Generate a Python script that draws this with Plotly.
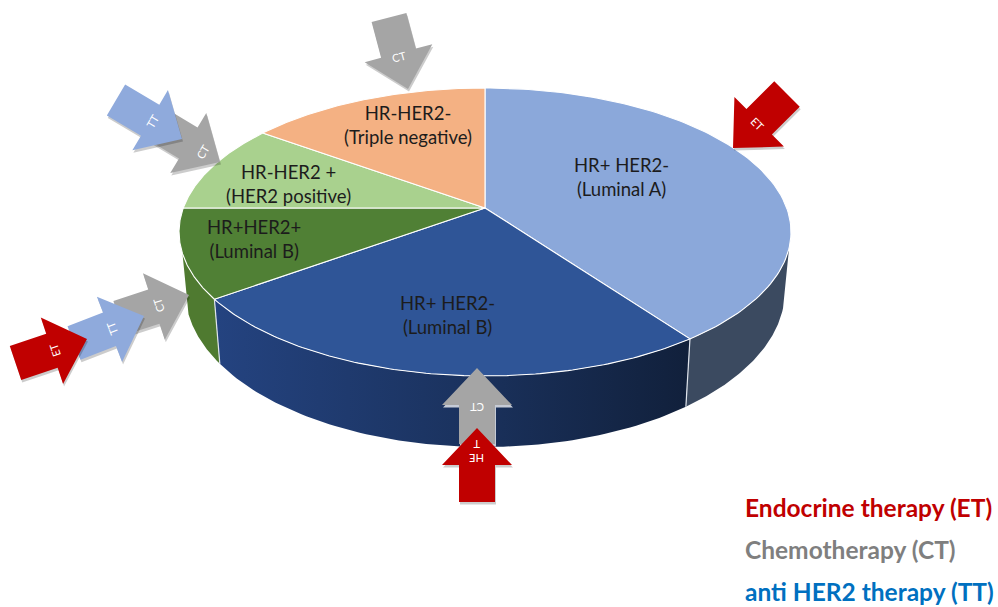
import math
import numpy as np
import plotly.graph_objects as go

# ---- data ----
slice_labels = ["HR+ HER2-<br>(Luminal A)", "HR+ HER2-<br>(Luminal B)", "HR+HER2+<br>(Luminal B)",
                "HR-HER2 +<br>(HER2 positive)", "HR-HER2-<br>(Triple negative)"]
slice_shares = [40, 25, 10, 10, 15]
slice_colors = ["#8ba8da", "#2f5597", "#508035", "#a9d18e", "#f4b183"]
label_x = [621, 447, 254, 288, 408]
label_y = [177, 315, 239, 184, 125]

legend_labels = ["Endocrine therapy (ET)", "Chemotherapy (CT)", "anti HER2 therapy (TT)"]
legend_colors = ["#c00000", "#7f7f7f", "#0070c0"]
legend_y = [507, 549, 591]

# therapy arrows: label, tip, back centre, and where its label sits along the arrow
arrow_text = ["CT", "TT", "ET", "CT", "TT", "CT", "ET", "CT", "HE<br>T"]
arrow_tipx = [189, 144, 87, 220, 182, 408, 733, 477, 477]
arrow_tipy = [295, 316, 339, 162, 139, 89, 148, 368, 428]
arrow_bx = [119, 74, 15.5, 155, 116, 389, 787, 477, 477]
arrow_by = [318, 343, 363, 123, 100, 17.5, 94, 444, 502]
arrow_frac = [0.56, 0.54, 0.55, 0.74, 0.55, 0.55, 0.55, 0.49, 0.69]
therapy_color = {"CT": "#a5a5a5", "TT": "#8faadc", "ET": "#c00000", "HE<br>T": "#c00000"}

# ---- projection of the pie on the page ----
CX, CY, A, B, K = 485, 208, 301.7, 140, 1 / 6
HEAD_LEN, HEAD_W, SHAFT_W = 37, 70, 36


def rim(deg):
    t = np.radians(deg)
    u, v = np.sin(t), -np.cos(t)
    d = 1 - K * v
    return CX + A * u / d, CY + B * v / d


def base(deg):
    x, y = rim(deg)
    return CX + 0.98 * (x - CX), CY + 57 + 1.083 * (y - CY)


fig = go.Figure()


def poly(xs, ys, fill, line=None, lw=0, grad=None):
    kw = dict(fillgradient=grad) if grad else dict(fillcolor=fill)
    fig.add_trace(go.Scatter(x=list(xs), y=list(ys), mode="lines", fill="toself",
                             line=dict(color=line or "rgba(0,0,0,0)", width=lw),
                             hoverinfo="skip", showlegend=False, **kw))


edges = np.cumsum([0] + slice_shares) * 3.6
VIS_R, VIS_L = 105.8, 252.0
walls = [
    (VIS_R, edges[1], "#3b4a60", None),
    (edges[1], edges[2], None, dict(type="horizontal", colorscale=[[0, "#244380"], [0.5, "#1b3360"], [1, "#11203b"]])),
    (edges[2], VIS_L, "#4f7a30", None),
]
for a0, a1, col, grad in walls:
    th = np.linspace(a0, a1, 80)
    tx, ty = rim(th)
    bx, by = base(th[::-1])
    poly(np.r_[tx, bx, tx[0]], np.r_[ty, by, ty[0]], col, None, 0, grad)

# white seams on the wall
for e in (edges[1], edges[2]):
    tx, ty = rim(e)
    bx, by = base(e)
    fig.add_trace(go.Scatter(x=[tx, bx], y=[ty, by], mode="lines", line=dict(color="#dfe4ec", width=1.2),
                             hoverinfo="skip", showlegend=False))

# top faces
for i, col in enumerate(slice_colors):
    th = np.linspace(edges[i], edges[i + 1], 120)
    x, y = rim(th)
    poly(np.r_[CX, x, CX], np.r_[CY, y, CY], col, "#ffffff", 1.1)

annotations = []
for t, x, y in zip(slice_labels, label_x, label_y):
    annotations.append(dict(x=x, y=y, text=t, showarrow=False, align="center",
                            font=dict(family="Lato", size=18.5, color="#1c1c1c")))

# arrows
for txt, tx, ty, bx, by, fr in zip(arrow_text, arrow_tipx, arrow_tipy, arrow_bx, arrow_by, arrow_frac):
    dx, dy = tx - bx, ty - by
    L = math.hypot(dx, dy)
    ux, uy = dx / L, dy / L
    nx, ny = -uy, ux
    hx, hy = tx - ux * HEAD_LEN, ty - uy * HEAD_LEN
    px = [tx, hx + nx * HEAD_W / 2, hx + nx * SHAFT_W / 2, bx + nx * SHAFT_W / 2,
          bx - nx * SHAFT_W / 2, hx - nx * SHAFT_W / 2, hx - nx * HEAD_W / 2, tx]
    py = [ty, hy + ny * HEAD_W / 2, hy + ny * SHAFT_W / 2, by + ny * SHAFT_W / 2,
          by - ny * SHAFT_W / 2, hy - ny * SHAFT_W / 2, hy - ny * HEAD_W / 2, ty]
    up = txt == "CT" and ty > 300 and abs(dx) < 1
    shadow = "rgba(255,255,255,0.75)" if up else "rgba(0,0,0,0.2)"
    poly([p + 1 for p in px], [p + 2.5 for p in py], shadow)
    poly(px, py, therapy_color[txt])
    angle = math.degrees(math.atan2(-ux, uy))  # rotation away from a downward arrow
    annotations.append(dict(x=bx + dx * fr, y=by + dy * fr, text=txt, showarrow=False, textangle=angle,
                            font=dict(family="Lato", size=11, color="#ffffff")))

for t, c, y in zip(legend_labels, legend_colors, legend_y):
    annotations.append(dict(x=743, y=y, text="<b>%s</b>" % t, showarrow=False, xanchor="left",
                            font=dict(family="Lato", size=24.5, color=c)))

fig.update_layout(width=998, height=607, margin=dict(l=0, r=0, t=0, b=0),
                  paper_bgcolor="white", plot_bgcolor="white", showlegend=False,
                  xaxis=dict(range=[0, 998], visible=False, fixedrange=True),
                  yaxis=dict(range=[607, 0], visible=False, fixedrange=True),
                  annotations=annotations)
fig.write_html("out.html", config=dict(displayModeBar=False),
               post_script="document.body.style.margin='0';document.body.style.overflow='hidden';")
